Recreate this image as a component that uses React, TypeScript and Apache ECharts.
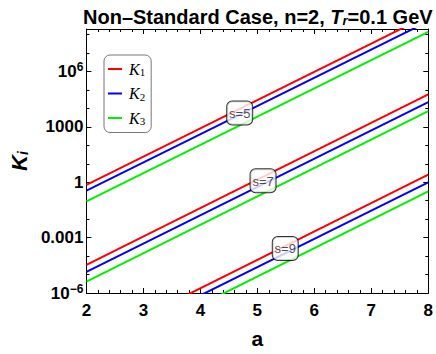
import React, { useEffect, useRef } from "react";
import * as echarts from "echarts";

const aVals = [2, 8];
// K_i values at a = 2 and a = 8, for each s
const s5K1 = [0.72, 1.1e9];
const s5K2 = [0.35, 5.2e8];
const s5K3 = [0.091, 1.4e8];
const s7K1 = [3.3e-5, 5.8e4];
const s7K2 = [1.4e-5, 2.2e4];
const s7K3 = [4.1e-6, 7.1e3];
const s9K1 = [1.5e-9, 2.6];
const s9K2 = [6.5e-10, 0.98];
const s9K3 = [1.9e-10, 0.32];

const sLabels = ["s=5", "s=7", "s=9"];
const sLabelA = [4.69, 5.1, 5.49];
const sLabelK = [5.6e3, 1.2, 2.6e-4];

const xTicks = [2, 3, 4, 5, 6, 7, 8];
const yMin = 1e-6;
const yMax = 2e8;

const names = ["K1", "K2", "K3"];
const colors = ["#ff0000", "#0000ff", "#00f000"];

const FONT = "Liberation Sans";

function fmtY(v: number): string {
  const e = Math.round(Math.log10(v));
  if (Math.abs(Math.log10(v) - e) > 1e-6 || e % 3 !== 0) return "";
  if (e === 3) return "1000";
  if (e === 0) return "1";
  if (e === -3) return "0.001";
  return `10{sup|${e < 0 ? "−" : ""}${Math.abs(e)}}`;
}

export default function App() {
  const ref = useRef<HTMLDivElement>(null);
  useEffect(() => {
    if (!ref.current) return;
    const chart = echarts.init(ref.current, undefined, { renderer: "svg" });
    const groups = [
      [s5K1, s5K2, s5K3],
      [s7K1, s7K2, s7K3],
      [s9K1, s9K2, s9K3],
    ];
    const series: any[] = [];
    groups.forEach((g) => {
      g.forEach((vals, i) => {
        series.push({
          type: "line",
          name: names[i],
          data: aVals.map((a, j) => [a, vals[j]]),
          showSymbol: false,
          symbol: "none",
          clip: true,
          lineStyle: { color: colors[i], width: 2 },
          itemStyle: { color: colors[i] },
          z: 2,
        });
      });
    });
    series.push({
      type: "scatter",
      name: "labels",
      symbolSize: 0,
      z: 10,
      data: sLabels.map((s, i) => ({ value: [sLabelA[i], sLabelK[i]], name: s })),
      label: {
        show: true,
        position: "inside",
        formatter: (p: any) => `{t|${p.name}}`,
        backgroundColor: "#fff",
        borderColor: "#000",
        borderWidth: 1,
        borderRadius: 5,
        padding: [4, 1, 3, 1],
        rich: {
          t: { fontFamily: FONT, fontSize: 13, color: "#222", width: 23, align: "center", lineHeight: 16 },
        },
      },
    });

    const yCommon = {
      type: "log",
      logBase: 10,
      min: yMin,
      max: yMax,
      splitLine: { show: false },
    };
    const xCommon = {
      type: "value",
      min: 2,
      max: 8,
      interval: 1,
      splitLine: { show: false },
    };

    chart.setOption({
      animation: false,
      title: {
        text: "{b|Non–Standard Case, n=2, }{it|T}{sub|r}{b|=0.1 GeV}",
        left: 78,
        top: 1,
        textStyle: {
          rich: {
            b: { fontFamily: FONT, fontWeight: "bold", fontSize: 20, color: "#000" },
            it: { fontFamily: FONT, fontWeight: "bold", fontStyle: "italic", fontSize: 20, color: "#000" },
            sub: { fontFamily: FONT, fontWeight: "bold", fontStyle: "italic", fontSize: 13, color: "#000", verticalAlign: "bottom", padding: [8, 0, 0, 0] },
          },
        },
      },
      legend: {
        data: names,
        orient: "vertical",
        left: 104,
        top: 55,
        itemWidth: 14,
        itemHeight: 2,
        itemGap: 8,
        icon: "rect",
        padding: [6, 6, 6, 4],
        backgroundColor: "#fff",
        borderColor: "#777",
        borderWidth: 1,
        borderRadius: 6,
        selectedMode: false,
        formatter: (n: string) => `{k|K}{s|${n.slice(1)}}`,
        textStyle: {
          padding: [0, 0, 0, 2],
          rich: {
            k: { fontFamily: "Liberation Serif", fontStyle: "italic", fontSize: 16, color: "#000" },
            s: { fontFamily: "Liberation Serif", fontSize: 11, color: "#000", verticalAlign: "bottom", padding: [6, 0, 0, 0] },
          },
        },
      },
      grid: { left: 73, right: 7, top: 29, bottom: 61, containLabel: false },
      xAxis: [
        {
          ...xCommon,
          position: "bottom",
          name: "a",
          nameLocation: "middle",
          nameGap: 35,
          nameTextStyle: { fontFamily: FONT, fontWeight: "bold", fontSize: 21, color: "#000" },
          axisLine: { show: true, lineStyle: { color: "#000", width: 1 } },
          axisTick: { show: true, inside: true, length: 5, lineStyle: { color: "#000" } },
          minorTick: { show: true, splitNumber: 5, length: 3, lineStyle: { color: "#000" } },
          axisLabel: { show: true, margin: 9, fontFamily: FONT, fontWeight: "bold", fontSize: 17, color: "#000" },
          data: xTicks,
        },
        {
          ...xCommon,
          position: "top",
          axisLine: { show: true, lineStyle: { color: "#000", width: 1 } },
          axisTick: { show: true, inside: true, length: 5, lineStyle: { color: "#000" } },
          minorTick: { show: true, splitNumber: 5, length: 3, lineStyle: { color: "#000" } },
          axisLabel: { show: false },
        },
      ],
      yAxis: [
        {
          ...yCommon,
          position: "left",
          interval: 3,
          name: "{k|K}{s|i}",
          nameLocation: "middle",
          nameGap: 56,
          nameRotate: 90,
          nameTextStyle: {
            rich: {
              k: { fontFamily: FONT, fontWeight: "bold", fontStyle: "italic", fontSize: 22, color: "#000" },
              s: { fontFamily: FONT, fontWeight: "bold", fontStyle: "italic", fontSize: 14, color: "#000", verticalAlign: "bottom", padding: [8, 0, 0, 0] },
            },
          },
          axisLine: { show: true, lineStyle: { color: "#000", width: 1 } },
          axisTick: { show: true, inside: true, length: 5, lineStyle: { color: "#000" } },
          axisLabel: {
            show: true,
            margin: 3,
            formatter: fmtY,
            fontFamily: FONT,
            fontWeight: "bold",
            fontSize: 17,
            color: "#000",
            rich: {
              sup: { fontFamily: FONT, fontWeight: "bold", fontSize: 12, color: "#000", verticalAlign: "top", padding: [0, 0, 8, 0] },
            },
          },
        },
        {
          ...yCommon,
          position: "left",
          interval: 1,
          axisLine: { show: false },
          axisTick: { show: true, inside: true, length: 3, lineStyle: { color: "#000" } },
          axisLabel: { show: false },
        },
        {
          ...yCommon,
          position: "right",
          interval: 3,
          axisLine: { show: true, lineStyle: { color: "#000", width: 1 } },
          axisTick: { show: true, inside: true, length: 5, lineStyle: { color: "#000" } },
          axisLabel: { show: false },
        },
        {
          ...yCommon,
          position: "right",
          interval: 1,
          axisLine: { show: false },
          axisTick: { show: true, inside: true, length: 3, lineStyle: { color: "#000" } },
          axisLabel: { show: false },
        },
      ],
      series,
    });
    return () => chart.dispose();
  }, []);
  return (
    <div
      ref={ref}
      style={{ position: "fixed", left: 0, top: 0, width: 436, height: 354, background: "#fff" }}
    />
  );
}
